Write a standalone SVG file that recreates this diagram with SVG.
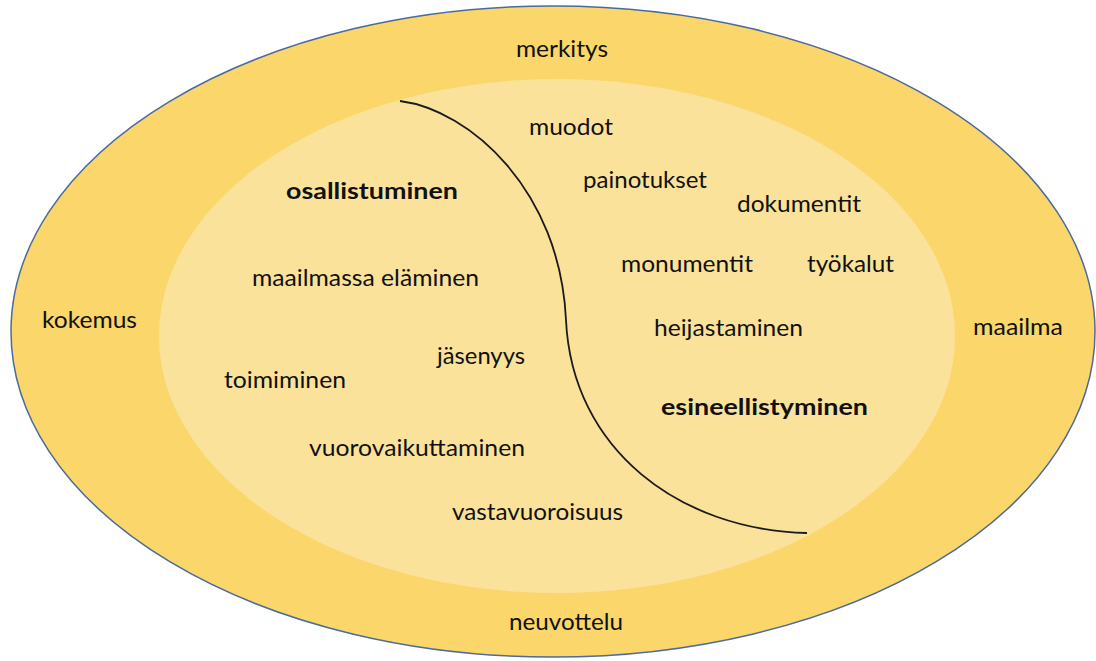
<svg xmlns="http://www.w3.org/2000/svg" width="1096" height="661" viewBox="0 0 1096 661">
<style>
text{font-family:"Lato","Liberation Sans",sans-serif;font-size:23px;fill:#111;}
.b{font-weight:bold;}
.outer{fill:#FAD66B;stroke:#4A6B9C;stroke-width:1.5;}
.inner{fill:#FBE29A;stroke:none;}
.div{fill:none;stroke:#1a1a1a;stroke-width:1.8;}
</style>
<rect width="1096" height="661" fill="#ffffff"/>
<g id="outer-ellipse">
<ellipse class="outer" cx="553" cy="331.5" rx="542" ry="325.5"/>
<text x="516" y="57" textLength="92" lengthAdjust="spacingAndGlyphs">merkitys</text>
<text x="42" y="328" textLength="95" lengthAdjust="spacingAndGlyphs">kokemus</text>
<text x="973" y="335" textLength="90" lengthAdjust="spacingAndGlyphs">maailma</text>
<text x="509" y="630" textLength="114" lengthAdjust="spacingAndGlyphs">neuvottelu</text>
</g>
<g id="inner-ellipse">
<ellipse class="inner" cx="557" cy="336" rx="398" ry="257"/>
</g>
<g id="connectors">
<path class="div" d="M400,101 C470,110 560,190 566,320 C572,450 680,530 807,533"/>
</g>
<g id="osallistuminen">
<text class="b" x="286" y="199" textLength="172" lengthAdjust="spacingAndGlyphs">osallistuminen</text>
<text x="252" y="286" textLength="227" lengthAdjust="spacingAndGlyphs">maailmassa eläminen</text>
<text x="437" y="364" textLength="88" lengthAdjust="spacingAndGlyphs">jäsenyys</text>
<text x="224" y="388" textLength="122" lengthAdjust="spacingAndGlyphs">toimiminen</text>
<text x="309" y="456" textLength="216" lengthAdjust="spacingAndGlyphs">vuorovaikuttaminen</text>
<text x="452" y="520" textLength="171" lengthAdjust="spacingAndGlyphs">vastavuoroisuus</text>
</g>
<g id="esineellistyminen">
<text x="529" y="135" textLength="84" lengthAdjust="spacingAndGlyphs">muodot</text>
<text x="583" y="188" textLength="124" lengthAdjust="spacingAndGlyphs">painotukset</text>
<text x="737" y="212" textLength="124" lengthAdjust="spacingAndGlyphs">dokumentit</text>
<text x="621" y="272" textLength="132" lengthAdjust="spacingAndGlyphs">monumentit</text>
<text x="807" y="272" textLength="87" lengthAdjust="spacingAndGlyphs">työkalut</text>
<text x="654" y="336" textLength="149" lengthAdjust="spacingAndGlyphs">heijastaminen</text>
<text class="b" x="661" y="415" textLength="207" lengthAdjust="spacingAndGlyphs">esineellistyminen</text>
</g>
</svg>
